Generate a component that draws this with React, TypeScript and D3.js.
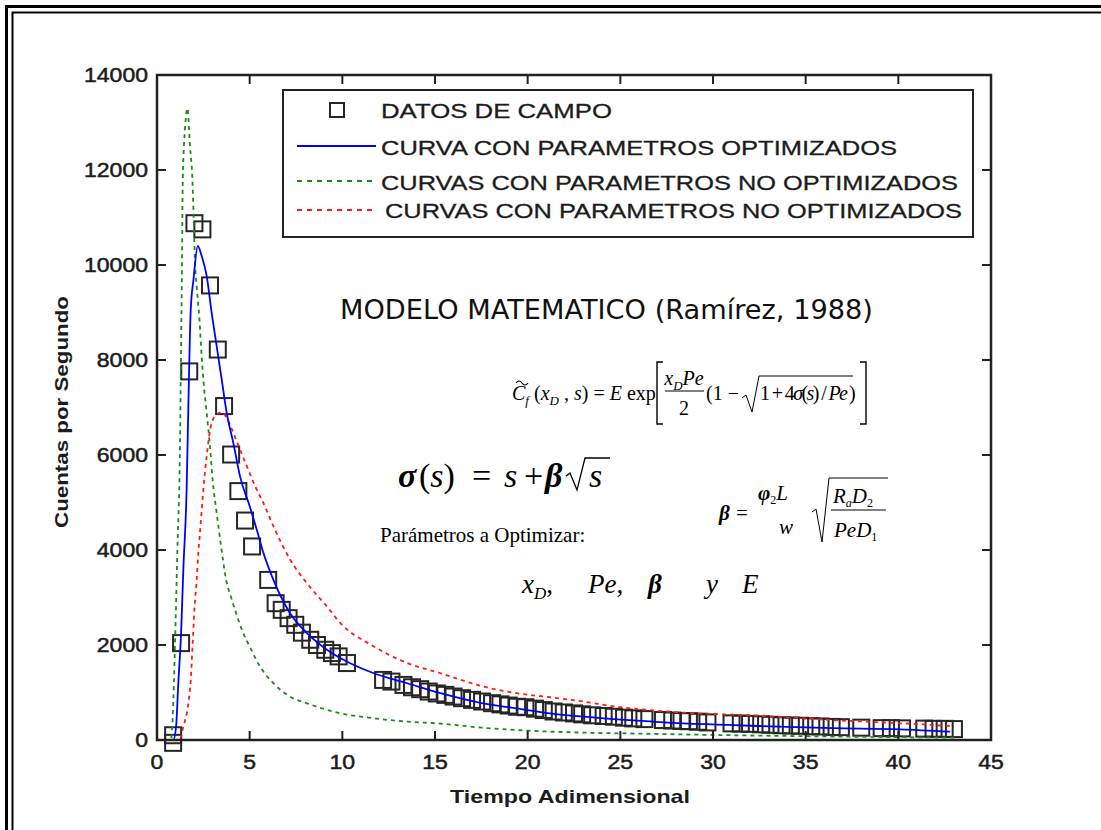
import React from 'react';
import * as d3 from 'd3';

// ---------- data ----------
const xTickValues = [0, 5, 10, 15, 20, 25, 30, 35, 40, 45];
const yTickValues = [0, 2000, 4000, 6000, 8000, 10000, 12000, 14000];

const fieldX = [0.87, 0.87, 1.3, 1.74, 2.02, 2.45, 2.86, 3.28, 3.62, 4.0, 4.39, 4.75, 5.13, 6.0, 6.4, 6.73, 7.1, 7.46, 7.82, 8.27, 8.63, 9.08, 9.44, 9.8, 10.25, 12.2, 12.65, 13.3, 13.76, 14.2, 14.66, 15.1, 15.56, 16.0, 16.46, 17.0, 17.54, 18.08, 18.53, 18.98, 19.43, 19.88, 20.4, 20.87, 21.4, 21.95, 22.5, 22.94, 23.48, 24.1, 24.65, 25.2, 25.7, 26.3, 27.3, 27.8, 28.3, 28.7, 29.2, 29.7, 31.0, 31.5, 32.0, 32.6, 33.1, 33.7, 34.2, 34.7, 35.3, 35.8, 36.4, 36.9, 38.0, 39.1, 39.6, 40.2, 41.4, 41.9, 42.5, 43.0];
const fieldY = [100, -60, 2040, 7760, 10880, 10750, 9570, 8220, 7030, 6010, 5240, 4620, 4075, 3370, 2880, 2740, 2565, 2425, 2260, 2110, 2000, 1900, 1830, 1760, 1620, 1265, 1230, 1160, 1110, 1070, 1020, 980, 950, 915, 880, 845, 810, 775, 750, 725, 700, 690, 660, 630, 600, 580, 560, 540, 520, 505, 490, 470, 455, 440, 420, 410, 400, 395, 385, 370, 350, 345, 340, 330, 320, 310, 305, 300, 290, 285, 275, 270, 260, 250, 250, 245, 240, 235, 235, 230];

const optX = [0, 0.88, 1.03, 1.15, 1.3, 1.42, 1.6, 1.69, 1.82, 1.97, 2.2, 2.41, 2.68, 2.95, 3.22, 3.49, 3.76, 4.12, 4.48, 5.02, 5.38, 5.74, 6.28, 7.18, 8.09, 9.17, 10.4, 11.7, 13.5, 15.3, 17.6, 19.4, 21.2, 23.0, 24.8, 26.6, 28.4, 30.2, 32.0, 34.0, 36.5, 40.1, 42.8];
const optY = [0, 0, 280, 1200, 2250, 3580, 5300, 7000, 9060, 9700, 10400, 10190, 9770, 8990, 8290, 7590, 6890, 6250, 5550, 4900, 4430, 3940, 3370, 2670, 2250, 1900, 1620, 1405, 1195, 985, 770, 665, 560, 490, 435, 390, 350, 325, 300, 275, 250, 225, 175];

const greenX = [0, 0.75, 0.85, 0.97, 1.1, 1.24, 1.3, 1.34, 1.39, 1.51, 1.64, 1.78, 1.91, 1.97, 2.05, 2.14, 2.29, 2.41, 2.5, 2.68, 2.86, 3.0, 3.22, 3.46, 3.73, 4.0, 4.27, 4.6, 5.0, 5.56, 6.28, 7.18, 8.09, 9.9, 11.7, 13.5, 15.3, 17.5, 19.4, 23.0, 26.6, 30.2, 35, 40, 43];
const greenY = [0, 0, 500, 2000, 4000, 6180, 8290, 9700, 11800, 12860, 13300, 12500, 11800, 11100, 10050, 9550, 8850, 8080, 7590, 6890, 6180, 5480, 4780, 4075, 3370, 3000, 2670, 2300, 1970, 1545, 1195, 913, 773, 563, 457, 387, 345, 260, 210, 155, 130, 105, 80, 60, 50];

const redX = [0, 1.2, 1.42, 1.69, 1.82, 1.92, 2.02, 2.14, 2.23, 2.36, 2.5, 2.68, 2.95, 3.22, 3.5, 3.8, 4.3, 4.85, 5.38, 5.74, 6.28, 7.18, 8.09, 9.17, 9.9, 11.7, 13.5, 15.3, 16.4, 17.6, 19.4, 21.2, 23.0, 24.8, 26.6, 28.4, 30.2, 32.0, 35, 38, 40, 43];
const redY = [0, 0, 280, 770, 1260, 2000, 2750, 3370, 3940, 4570, 5270, 5970, 6680, 6850, 6900, 6750, 6290, 5760, 5270, 4990, 4500, 3800, 3300, 2810, 2460, 1970, 1620, 1405, 1265, 1125, 985, 900, 810, 700, 630, 575, 545, 520, 450, 390, 355, 290];

const legendLabels = [
  'DATOS DE CAMPO',
  'CURVA CON PARAMETROS OPTIMIZADOS',
  'CURVAS CON PARAMETROS NO OPTIMIZADOS',
  'CURVAS CON PARAMETROS NO OPTIMIZADOS',
];

const SANS = "'Liberation Sans', Arial, Helvetica, sans-serif";
const SERIF = "'Liberation Serif', 'Times New Roman', serif";
const INK = '#1c1c1c';

export default function App() {
  const x = d3.scaleLinear().domain([0, 45]).range([157, 991]);
  const y = d3.scaleLinear().domain([0, 14000]).range([740, 75]);
  const mk = (xs: number[], ys: number[]) =>
    d3
      .line<[number, number]>()
      .x((d) => x(d[0]))
      .y((d) => y(d[1]))
      .curve(d3.curveMonotoneX)(xs.map((v, i) => [v, ys[i]] as [number, number])) || '';

  const [x0, x1] = x.range();
  const [yb, yt] = y.range();
  const sq = 8;

  return (
    <svg
      width={1101}
      height={830}
      style={{ position: 'absolute', left: 0, top: 0, background: '#fff' }}
    >
      <rect x={0} y={0} width={1101} height={830} fill="#fff" />
      {/* outer double frame */}
      <path d="M6.5,830 V6.5 H1101" fill="none" stroke="#000" strokeWidth={3} />
      <path d="M12.5,830 V12.5 H1101" fill="none" stroke="#000" strokeWidth={2} />

      <defs>
        <clipPath id="plotclip">
          <rect x={x0} y={yt} width={x1 - x0} height={yb - yt + 2} />
        </clipPath>
      </defs>

      {/* field data squares */}
      <g fill="none" stroke="#262626" strokeWidth={2}>
        {fieldX.map((v, i) => (
          <rect key={i} x={x(v) - sq} y={y(fieldY[i]) - sq} width={sq * 2} height={sq * 2} />
        ))}
      </g>

      {/* curves */}
      <g clipPath="url(#plotclip)" fill="none">
        <path d={mk(greenX, greenY)} stroke="#1a8a1a" strokeWidth={1.8} strokeDasharray="4,4" />
        <path d={mk(redX, redY)} stroke="#ff1a1a" strokeWidth={1.8} strokeDasharray="4,4" />
        <path d={mk(optX, optY)} stroke="#0000ff" strokeWidth={1.8} />
      </g>

      {/* axes box */}
      <rect x={x0} y={yt} width={x1 - x0} height={yb - yt} fill="none" stroke="#222" strokeWidth={2.5} />
      <g stroke="#222" strokeWidth={2}>
        {xTickValues.slice(1, -1).map((v) => (
          <g key={v}>
            <line x1={x(v)} x2={x(v)} y1={yb} y2={yb - 9} />
            <line x1={x(v)} x2={x(v)} y1={yt} y2={yt + 9} />
          </g>
        ))}
        {yTickValues.slice(1, -1).map((v) => (
          <g key={v}>
            <line x1={x0} x2={x0 + 9} y1={y(v)} y2={y(v)} />
            <line x1={x1} x2={x1 - 9} y1={y(v)} y2={y(v)} />
          </g>
        ))}
      </g>

      {/* tick labels */}
      <g fontFamily={SANS} fontSize={20} fill={INK} stroke={INK} strokeWidth={0.5}>
        {xTickValues.map((v) => (
          <text key={v} x={x(v)} y={769} textAnchor="middle" textLength={String(v).length * 12.8} lengthAdjust="spacingAndGlyphs">
            {v}
          </text>
        ))}
        {yTickValues.map((v) => (
          <text key={v} x={148} y={y(v) + 7} textAnchor="end" textLength={String(v).length * 12.8} lengthAdjust="spacingAndGlyphs">
            {v}
          </text>
        ))}
      </g>

      {/* axis titles */}
      <text x={570} y={803} textAnchor="middle" fontFamily={SANS} fontWeight="bold" fontSize={19} fill={INK} textLength={240} lengthAdjust="spacingAndGlyphs">
        Tiempo Adimensional
      </text>
      <text transform="translate(68,412) rotate(-90)" textAnchor="middle" fontFamily={SANS} fontWeight="bold" fontSize={19} fill={INK} textLength={232} lengthAdjust="spacingAndGlyphs">
        Cuentas por Segundo
      </text>

      {/* legend */}
      <rect x={283} y={90} width={690} height={147} fill="#fff" stroke="#222" strokeWidth={2} />
      <rect x={337 - 7} y={110 - 7} width={14} height={14} fill="none" stroke="#262626" strokeWidth={2} />
      <line x1={297} x2={376} y1={146} y2={146} stroke="#0000ff" strokeWidth={1.8} />
      <line x1={297} x2={376} y1={181} y2={181} stroke="#1a8a1a" strokeWidth={2} strokeDasharray="5,5" />
      <line x1={297} x2={376} y1={210} y2={210} stroke="#ff1a1a" strokeWidth={2} strokeDasharray="5,5" />
      <g fontFamily={SANS} fontSize={21} fill={INK} stroke={INK} strokeWidth={0.3}>
        <text x={381} y={118} textLength={231} lengthAdjust="spacingAndGlyphs">{legendLabels[0]}</text>
        <text x={381} y={155} textLength={516} lengthAdjust="spacingAndGlyphs">{legendLabels[1]}</text>
        <text x={381} y={190} textLength={577} lengthAdjust="spacingAndGlyphs">{legendLabels[2]}</text>
        <text x={385} y={218} textLength={577} lengthAdjust="spacingAndGlyphs">{legendLabels[3]}</text>
      </g>

      {/* annotation */}
      <text x={340} y={319} fontFamily="'DejaVu Sans', Verdana, sans-serif" fontSize={26} fill="#111" textLength={533} lengthAdjust="spacingAndGlyphs">
        MODELO MATEMATICO (Ramírez, 1988)
      </text>

      {/* formula line 1 */}
      <g fontFamily={SERIF} fontSize={20} fill="#000" style={{ whiteSpace: 'pre' }}>
        <path d="M516,383 q3,-4 6,0 t6,0" fill="none" stroke="#000" strokeWidth={1.2} />
        <text x={512} y={400}>
          <tspan fontStyle="italic">C</tspan>
          <tspan fontStyle="italic" fontSize={13} dy={5}>f</tspan>
          <tspan dy={-5}> (</tspan>
          <tspan fontStyle="italic">x</tspan>
          <tspan fontStyle="italic" fontSize={13} dy={5}>D</tspan>
          <tspan dy={-5}> , </tspan>
          <tspan fontStyle="italic">s</tspan>
          <tspan>) = </tspan>
          <tspan fontStyle="italic">E</tspan>
          <tspan> exp</tspan>
        </text>
        <path d="M663,362 H657 V424 H663" fill="none" stroke="#000" strokeWidth={1.4} />
        <text x={684} y={385} textAnchor="middle">
          <tspan fontStyle="italic">x</tspan>
          <tspan fontStyle="italic" fontSize={13} dy={5}>D</tspan>
          <tspan fontStyle="italic" dy={-5}>Pe</tspan>
        </text>
        <line x1={665} x2={704} y1={391} y2={391} stroke="#000" strokeWidth={1} />
        <text x={684} y={415} textAnchor="middle">2</text>
        <text x={706} y={400}>(1 − </text>
        <path d="M742,398 L746,395 L752,412 L759,376 H853" fill="none" stroke="#000" strokeWidth={1} />
        <text x={760} y={400} textLength={88} lengthAdjust="spacing">
          <tspan>1 + 4</tspan>
          <tspan fontStyle="italic">σ</tspan>
          <tspan>(</tspan>
          <tspan fontStyle="italic">s</tspan>
          <tspan>) / </tspan>
          <tspan fontStyle="italic">Pe</tspan>
        </text>
        <text x={849} y={400}>)</text>
        <path d="M860,362 H866 V424 H860" fill="none" stroke="#000" strokeWidth={1.4} />
      </g>

      {/* sigma line */}
      <g fontFamily={SERIF} fontSize={34} fill="#000">
        <text x={398} y={487} fontWeight="bold" fontStyle="italic">σ</text>
        <text x={419} y={487}>(<tspan fontStyle="italic">s</tspan>)</text>
        <text x={472} y={487}>=</text>
        <text x={504} y={487} fontStyle="italic">s</text>
        <text x={524} y={487}>+</text>
        <text x={545} y={487} fontWeight="bold" fontStyle="italic">β</text>
        <path d="M566,476 L570,473 L577,490 L585,458 H610" fill="none" stroke="#000" strokeWidth={1.3} />
        <text x={589} y={487} fontStyle="italic">s</text>
      </g>

      {/* beta definition */}
      <g fontFamily={SERIF} fontSize={21} fill="#000">
        <text x={719} y={520} fontWeight="bold" fontStyle="italic">β</text>
        <text x={736} y={520}>=</text>
        <text x={758} y={500}>
          <tspan fontWeight="bold" fontStyle="italic">φ</tspan>
          <tspan fontSize={12} dy={4}>2</tspan>
          <tspan fontStyle="italic" dy={-4}>L</tspan>
        </text>
        <text x={779} y={534} fontStyle="italic">w</text>
        <path d="M812,512 L816,509 L822,542 L829,478 H888" fill="none" stroke="#000" strokeWidth={1} />
        <text x={833} y={503}>
          <tspan fontStyle="italic">R</tspan>
          <tspan fontStyle="italic" fontSize={12} dy={4}>a</tspan>
          <tspan fontStyle="italic" dy={-4}>D</tspan>
          <tspan fontSize={12} dy={4}>2</tspan>
        </text>
        <line x1={831} x2={886} y1={510} y2={510} stroke="#000" strokeWidth={1} />
        <text x={834} y={537}>
          <tspan fontStyle="italic">PeD</tspan>
          <tspan fontSize={12} dy={4}>1</tspan>
        </text>
      </g>

      {/* parameters */}
      <text x={380} y={542} fontFamily={SERIF} fontSize={21} fill="#000">Parámetros a Optimizar:</text>
      <g fontFamily={SERIF} fontSize={27} fill="#000">
        <text x={522} y={593}>
          <tspan fontStyle="italic">x</tspan>
          <tspan fontStyle="italic" fontSize={17} dy={6}>D</tspan>
          <tspan dy={-6}>,</tspan>
        </text>
        <text x={588} y={593}>
          <tspan fontStyle="italic">Pe</tspan>
          <tspan>,</tspan>
        </text>
        <text x={648} y={593} fontWeight="bold" fontStyle="italic">β</text>
        <text x={706} y={593} fontStyle="italic">y</text>
        <text x={742} y={593} fontStyle="italic">E</text>
      </g>
    </svg>
  );
}
